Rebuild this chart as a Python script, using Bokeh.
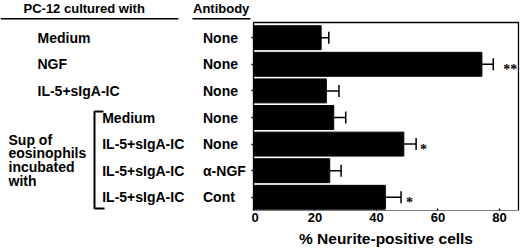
from bokeh.plotting import figure
from bokeh.layouts import row
from bokeh.models import (Range1d, FixedTicker, LabelSet, Whisker, TeeHead,
                          ColumnDataSource)
from bokeh.core.properties import value
from bokeh.embed import file_html
from bokeh.resources import INLINE

# ---------------- data ----------------
conditions = ["Medium", "NGF", "IL-5+sIgA-IC", "Medium", "IL-5+sIgA-IC",
              "IL-5+sIgA-IC", "IL-5+sIgA-IC"]
antibodies = ["None", "None", "None", "None", "None", "α-NGF", "Cont"]
neurite_pct = [22.0, 74.3, 23.7, 26.1, 48.9, 24.8, 42.9]
sem_pct = [2.5, 3.7, 4.1, 3.9, 4.0, 3.7, 5.1]
significance = ["", "**", "", "", "*", "", "*"]
in_sup_group = [False, False, False, True, True, True, True]
group_lines = ["Sup of", "eosinophils", "incubated", "with"]
x_ticks = [0, 20, 40, 60, 80]
header_left = "PC-12 cultured with"
header_right = "Antibody"
x_title = "% Neurite-positive cells"

# ---------------- layout / style ----------------
W, H = 520, 252
LEFT_W = 251            # label panel width
BB = 42                 # bottom border (x axis)
FH = H - BB             # frame height (both panels)
PXU = 3.074             # px per percent unit
ZERO_OFF = 2            # px from bar-panel frame edge to 0 %
ROW0 = 23.9             # px of top edge of first row
PITCH = 26.6            # px per row
BOX_TOP_PX = 22.0
BOX_RIGHT = 86.2        # percent at right edge of the box
NROW = len(conditions)
FONT = "Liberation Sans"
star_gap_px = [4, 10, 4, 4, 4, 4, 5]

XMIN = -ZERO_OFF / PXU
XMAX = XMIN + (W - LEFT_W) / PXU
y_rng = Range1d((FH - ROW0) / PITCH, -ROW0 / PITCH)   # flipped: rows downwards


def ly(py):
    return (py - ROW0) / PITCH


rows = [i + 0.5 for i in range(NROW)]
src = ColumnDataSource(dict(
    y=rows,
    x=neurite_pct,
    hi=[m + s for m, s in zip(neurite_pct, sem_pct)],
    sig=significance,
    gap=star_gap_px,
))

# ---------------- bar panel ----------------
p = figure(width=W - LEFT_W, height=H, x_range=Range1d(XMIN, XMAX), y_range=y_rng,
           min_border_left=0, min_border_right=0, min_border_top=0,
           min_border_bottom=BB, output_backend="svg", toolbar_location=None)
p.grid.visible = False
p.outline_line_color = None
p.background_fill_color = "white"
p.border_fill_color = "white"

# plot box
p.quad(left=[0], right=[BOX_RIGHT], top=[ly(BOX_TOP_PX)], bottom=[NROW],
       fill_color=None, line_color="black", line_width=1.3)

p.hbar(y="y", right="x", left=0, height=0.9, color="black", source=src)

p.add_layout(Whisker(source=src, base="y", lower="x", upper="hi", dimension="width",
                     line_width=1.5, line_color="black", lower_head=None,
                     upper_head=TeeHead(size=12, line_width=1.5, line_color="black")))

p.add_layout(LabelSet(source=src, x="hi", y="y", text="sig", x_offset="gap",
                      y_offset=-5, text_baseline="middle", text_font=FONT,
                      text_font_size="14px", text_font_style="bold",
                      text_color="black"))

p.xaxis.ticker = FixedTicker(ticks=x_ticks)
p.xaxis.minor_tick_line_color = None
p.xaxis.major_tick_in = 2
p.xaxis.major_tick_out = 0
p.xaxis.major_label_standoff = 2
p.xaxis.major_label_text_font = FONT
p.xaxis.major_label_text_font_size = "13px"
p.xaxis.major_label_text_font_style = "bold"
p.xaxis.major_label_text_color = "black"
p.xaxis.axis_label = x_title
p.xaxis.axis_label_text_font = FONT
p.xaxis.axis_label_text_font_size = "15.5px"
p.xaxis.axis_label_text_font_style = "bold"
p.xaxis.axis_label_text_color = "black"
p.xaxis.axis_label_standoff = 5
p.xaxis.axis_line_color = None
p.xaxis.major_tick_line_width = 1.3

p.yaxis.ticker = FixedTicker(ticks=rows)
p.yaxis.minor_tick_line_color = None
p.yaxis.major_tick_in = ZERO_OFF
p.yaxis.major_tick_out = 0
p.yaxis.major_label_standoff = 0
p.yaxis.major_label_overrides = {r: "" for r in rows}
p.yaxis.axis_line_color = None
p.yaxis.major_tick_line_width = 1.3

# ---------------- label panel ----------------
q = figure(width=LEFT_W, height=H, x_range=Range1d(0, LEFT_W), y_range=y_rng,
           x_axis_type=None, y_axis_type=None, min_border_left=0,
           min_border_right=0, min_border_top=0, min_border_bottom=BB,
           output_backend="svg", toolbar_location=None)
q.grid.visible = False
q.outline_line_color = None
q.background_fill_color = "white"
q.border_fill_color = "white"

txt = dict(text_font=value(FONT), text_font_size="14px", text_font_style="bold",
           text_color="black", text_baseline="middle")

q.text(x=[101.7 if g else 37 for g in in_sup_group], y=rows, text=conditions, **txt)
q.text(x=[202.5] * NROW, y=rows, text=antibodies, **txt)
q.text(x=[23, 192.5], y=[ly(7.5)] * 2, text=[header_left, header_right],
       **dict(txt, text_font_size="13px"))
q.text(x=[8] * len(group_lines),
       y=[ly(139 + 13.9 * i) for i in range(len(group_lines))],
       text=group_lines, **txt)

# header underlines
q.segment(x0=[0, 192], y0=[ly(18.3)] * 2, x1=[178, 250], y1=[ly(18.3)] * 2,
          line_width=1.5, line_color="black")

# bracket
bx, by0, by1 = 94, 111, 208
q.line(x=[103, bx, bx, 104], y=[ly(by0), ly(by0), ly(by1), ly(by1)],
       line_width=2, line_color="black")

layout = row(q, p)
open("out.html", "w").write(file_html(layout, INLINE))
